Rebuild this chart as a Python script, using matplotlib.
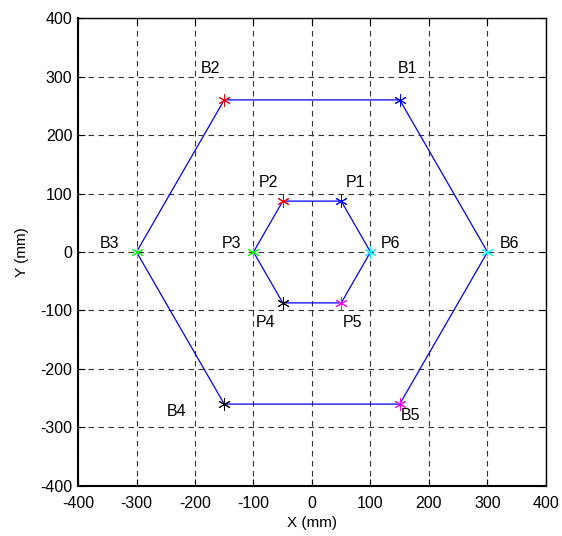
import matplotlib
matplotlib.use("Agg")
import matplotlib.pyplot as plt

# outer hexagon (B) and inner hexagon (P) vertices, mm
b_names = ['B1', 'B2', 'B3', 'B4', 'B5', 'B6']
b_x = [150, -150, -300, -150, 150, 300]
b_y = [260, 260, 0, -260, -260, 0]

p_names = ['P1', 'P2', 'P3', 'P4', 'P5', 'P6']
p_x = [50, -50, -100, -50, 50, 100]
p_y = [87, 87, 0, -87, -87, 0]

colors = ['blue', 'red', '#00ff00', 'black', 'magenta', 'cyan']

# label offsets from each vertex (data units)
b_off = [(-3, 53), (-40, 53), (-62, 15), (-98, -12), (2, -19), (21, 15)]
p_off = [(8, 31), (-41, 31), (-55, 15), (-46, -33), (3, -33), (18, 15)]

plt.rcParams['font.family'] = ['Liberation Sans', 'DejaVu Sans']
plt.rcParams['axes.unicode_minus'] = False

fig = plt.figure(figsize=(5.62, 5.36), dpi=100)
ax = fig.add_axes([0.1388, 0.0933, 0.8327, 0.8731])

ax.plot(b_x + b_x[:1], b_y + b_y[:1], color='blue', linewidth=0.9, zorder=3)
ax.plot(p_x + p_x[:1], p_y + p_y[:1], color='blue', linewidth=0.9, zorder=3)

asterisk = (6, 2, 0)
for i in range(6):
    ax.plot(b_x[i], b_y[i], marker=asterisk, color=colors[i], markersize=9,
            markeredgewidth=0.7, zorder=4)
    ax.plot(p_x[i], p_y[i], marker=asterisk, color=colors[i], markersize=9,
            markeredgewidth=0.7, zorder=4)
    ax.text(b_x[i] + b_off[i][0], b_y[i] + b_off[i][1], b_names[i],
            fontsize=11.5, va='center', ha='left')
    ax.text(p_x[i] + p_off[i][0], p_y[i] + p_off[i][1], p_names[i],
            fontsize=11.5, va='center', ha='left')

ax.set_xlim(-400, 400)
ax.set_ylim(-400, 400)
ax.set_xticks(range(-400, 401, 100))
ax.set_yticks(range(-400, 401, 100))
ax.tick_params(direction='in', top=True, right=True, labelsize=11.5,
               length=5)
ax.tick_params(axis='x', pad=7)
ax.tick_params(axis='y', pad=4)
ax.grid(True, color='0.2', linestyle=(0, (5, 4)), linewidth=0.8)
ax.set_axisbelow(True)
for s in ax.spines.values():
    s.set_linewidth(1.0)
ax.spines['left'].set_linewidth(1.5)
ax.spines['bottom'].set_linewidth(1.5)

ax.set_xlabel('X (mm)', fontsize=11, labelpad=4)
ax.set_ylabel('Y (mm)', fontsize=11, labelpad=8)

fig.savefig('out.png', dpi=100)
